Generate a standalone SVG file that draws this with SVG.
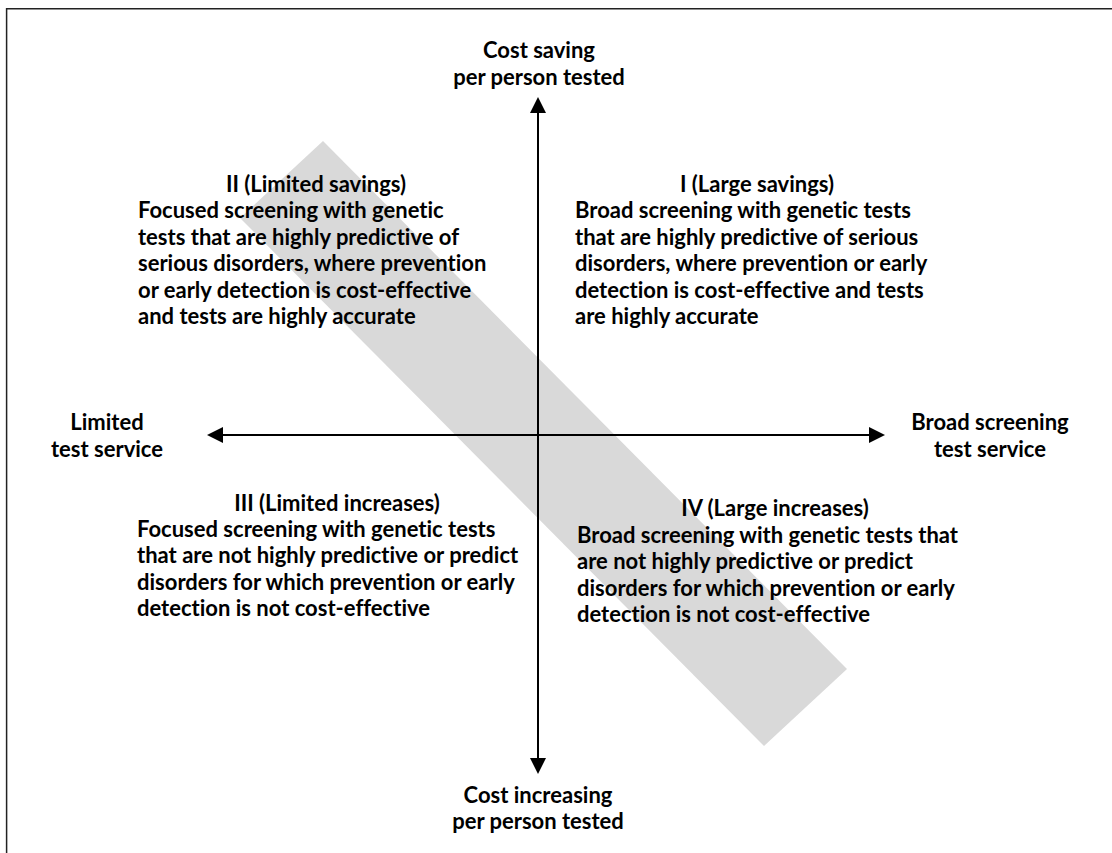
<svg xmlns="http://www.w3.org/2000/svg" width="1112" height="853" viewBox="0 0 1112 853">
<style>
text{font-family:Lato,"Open Sans","Liberation Sans",sans-serif;font-weight:bold;font-size:22px;fill:#000;font-variant-ligatures:none}
.c{text-anchor:middle}
.ax{stroke:#000;stroke-width:2;fill:none}
</style>
<defs>
<marker id="arr" markerUnits="userSpaceOnUse" markerWidth="16" markerHeight="16" refX="0" refY="8" orient="auto-start-reverse" viewBox="0 0 16 16">
<path d="M0,0 L16,8 L0,16 z" fill="#000"/>
</marker>
</defs>
<rect width="1112" height="853" fill="#fff"/>
<path d="M6.6,853 V8.75 H1112" fill="none" stroke="#222" stroke-width="1.5"/>
<polygon id="band" points="323,141 847,669 764,746 240,218" fill="#d9d9d9"/>
<g id="connectors">
<line class="ax" x1="538" y1="113" x2="538" y2="758" marker-start="url(#arr)" marker-end="url(#arr)"/>
<line class="ax" x1="223" y1="435" x2="869" y2="435" marker-start="url(#arr)" marker-end="url(#arr)"/>
</g>
<g id="top-label"><text class="c" x="539" y="58">Cost saving</text><text class="c" x="539" y="85">per person tested</text></g>
<g id="bottom-label"><text class="c" x="538" y="803">Cost increasing</text><text class="c" x="538" y="829">per person tested</text></g>
<g id="left-label"><text class="c" x="107" y="430">Limited</text><text class="c" x="107" y="457">test service</text></g>
<g id="right-label"><text class="c" x="990" y="430">Broad screening</text><text class="c" x="990" y="457">test service</text></g>
<g id="quadrant-II">
<text class="c" x="316" y="192">II (Limited savings)</text>
<text x="138" y="218">Focused screening with genetic</text>
<text x="138" y="245">tests that are highly predictive of</text>
<text x="138" y="271">serious disorders, where prevention</text>
<text x="138" y="298">or early detection is cost-effective</text>
<text x="138" y="324">and tests are highly accurate</text>
</g>
<g id="quadrant-I">
<text class="c" x="757" y="192">I (Large savings)</text>
<text x="575" y="218">Broad screening with genetic tests</text>
<text x="575" y="245">that are highly predictive of serious</text>
<text x="575" y="271">disorders, where prevention or early</text>
<text x="575" y="298">detection is cost-effective and tests</text>
<text x="575" y="324">are highly accurate</text>
</g>
<g id="quadrant-III">
<text class="c" x="337" y="511">III (Limited increases)</text>
<text x="137" y="537">Focused screening with genetic tests</text>
<text x="137" y="563">that are not highly predictive or predict</text>
<text x="137" y="590">disorders for which prevention or early</text>
<text x="137" y="616">detection is not cost-effective</text>
</g>
<g id="quadrant-IV">
<text class="c" x="775" y="516">IV (Large increases)</text>
<text x="577" y="543">Broad screening with genetic tests that</text>
<text x="577" y="569">are not highly predictive or predict</text>
<text x="577" y="596">disorders for which prevention or early</text>
<text x="577" y="622">detection is not cost-effective</text>
</g>
</svg>
